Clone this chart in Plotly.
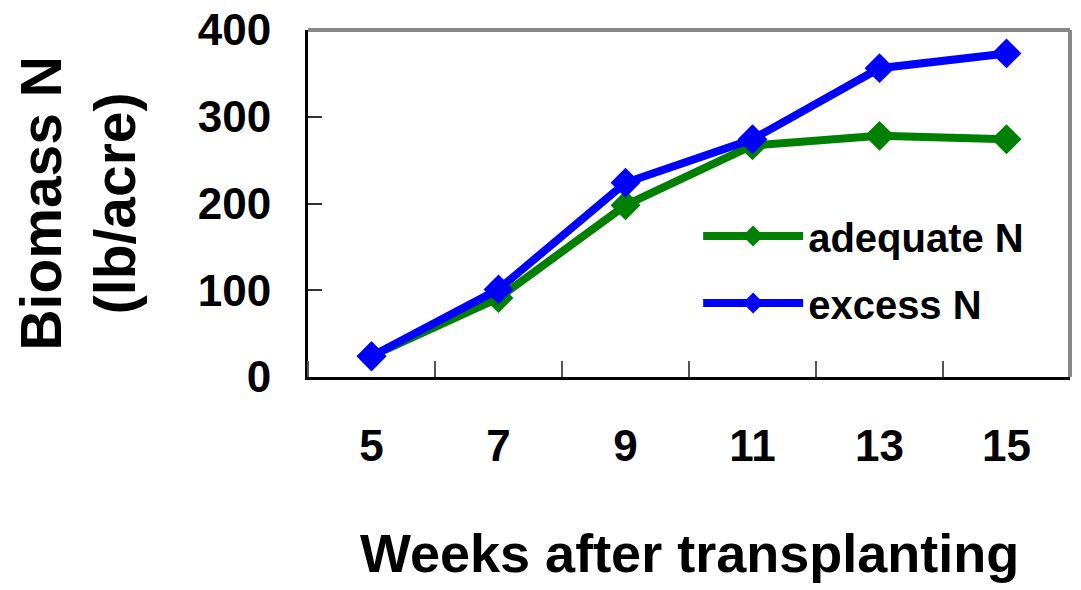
import plotly.graph_objects as go

weeks = [5, 7, 9, 11, 13, 15]
adequate_n = [24, 91, 198, 267, 278, 274]
excess_n = [24, 101, 224, 274, 356, 373]
y_ticks = [0, 100, 200, 300, 400]

FONT = "Liberation Sans, Arial, sans-serif"

fig = go.Figure()
fig.add_trace(go.Scatter(
    x=weeks, y=adequate_n, name="<b>adequate N</b>", mode="lines+markers",
    line=dict(color="#008000", width=8),
    marker=dict(symbol="diamond", size=23, color="#008000"),
    legendgroup="a",
))
fig.add_trace(go.Scatter(
    x=weeks, y=excess_n, name="<b>excess N</b>", mode="lines+markers",
    line=dict(color="#0000FF", width=8),
    marker=dict(symbol="diamond", size=23, color="#0000FF"),
    legendgroup="b",
))

fig.update_layout(
    width=1081, height=590,
    margin=dict(l=300, r=19, t=22, b=221, autoexpand=False),
    plot_bgcolor="white", paper_bgcolor="white",
    font=dict(family=FONT, color="black"),
    legend=dict(x=0.512, y=0.50, xanchor="left", yanchor="top",
                font=dict(size=40, family=FONT), bgcolor="rgba(0,0,0,0)",
                tracegroupgap=12, itemwidth=100),
    showlegend=True,
)

fig.update_xaxes(
    range=[4, 16], tickvals=weeks, ticktext=[f"<b>{w}</b>" for w in weeks],
    ticks="", showgrid=False, zeroline=False, automargin=False,
    tickfont=dict(size=44, family=FONT), ticklabelstandoff=28,
    ticklabeloverflow="allow",
    showline=True, linecolor="black", linewidth=3, mirror=False,
    minor=dict(ticks="inside", ticklen=16, tickwidth=2, tickcolor="#555",
               tick0=6, dtick=2, showgrid=False),
)
fig.update_yaxes(
    range=[0, 400], tickvals=y_ticks, ticktext=[f"<b>{v}</b>" for v in y_ticks],
    ticks="inside", ticklen=14, tickwidth=2, tickcolor="#333",
    showgrid=False, zeroline=False, automargin=False,
    tickfont=dict(size=44, family=FONT), ticklabelstandoff=25,
    ticklabeloverflow="allow",
    showline=True, linecolor="black", linewidth=3,
)

# top and right gray borders
fig.add_shape(type="line", xref="paper", yref="paper", x0=0, x1=1, y0=1, y1=1,
              line=dict(color="#888888", width=4))
fig.add_shape(type="line", xref="paper", yref="paper", x0=1, x1=1, y0=0, y1=1,
              line=dict(color="#888888", width=4))

fig.add_annotation(text="<b>Biomass N<br>(lb/acre)</b>", xref="paper", yref="paper",
                   x=-0.303, y=0.5, textangle=-90, showarrow=False,
                   font=dict(size=57, family=FONT), xanchor="center", yanchor="middle")
fig.add_annotation(text="<b>Weeks after transplanting</b>", xref="paper", yref="paper",
                   x=0.5, y=-0.507, showarrow=False,
                   font=dict(size=54, family=FONT), xanchor="center", yanchor="middle")

fig.write_html("out.html")
